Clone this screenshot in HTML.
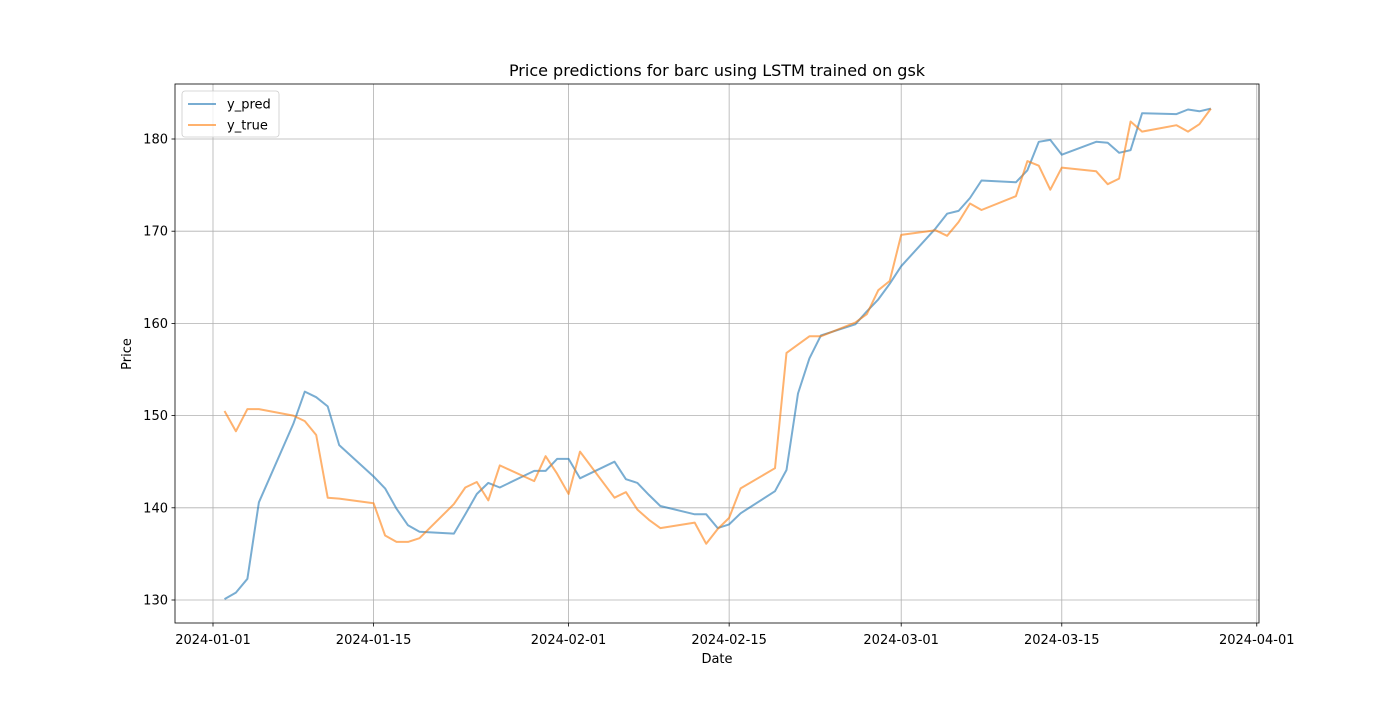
<!DOCTYPE html>
<html><head><meta charset="utf-8"><style>
body{margin:0;background:#fff;font-family:"Liberation Sans","DejaVu Sans",sans-serif}
</style></head><body>
<svg id="chart" width="1400" height="700" xmlns="http://www.w3.org/2000/svg" font-family="DejaVu Sans, Liberation Sans, sans-serif">
<rect width="1400" height="700" fill="#fff"/>
<g id="grid"></g><g id="series"></g><g id="axes"></g>
</svg>
<script>
const dates=["2024-01-02","2024-01-03","2024-01-04","2024-01-05","2024-01-08","2024-01-09","2024-01-10","2024-01-11","2024-01-12","2024-01-15","2024-01-16","2024-01-17","2024-01-18","2024-01-19","2024-01-22","2024-01-23","2024-01-24","2024-01-25","2024-01-26","2024-01-29","2024-01-30","2024-01-31","2024-02-01","2024-02-02","2024-02-05","2024-02-06","2024-02-07","2024-02-08","2024-02-09","2024-02-12","2024-02-13","2024-02-14","2024-02-15","2024-02-16","2024-02-19","2024-02-20","2024-02-21","2024-02-22","2024-02-23","2024-02-26","2024-02-27","2024-02-28","2024-02-29","2024-03-01","2024-03-04","2024-03-05","2024-03-06","2024-03-07","2024-03-08","2024-03-11","2024-03-12","2024-03-13","2024-03-14","2024-03-15","2024-03-18","2024-03-19","2024-03-20","2024-03-21","2024-03-22","2024-03-25","2024-03-26","2024-03-27","2024-03-28"];
const yPred=[130.1,130.8,132.3,140.6,149.1,152.6,152.0,151.0,146.8,143.4,142.1,139.9,138.1,137.4,137.2,139.3,141.5,142.7,142.2,144.0,144.0,145.3,145.3,143.2,145.0,143.1,142.7,141.4,140.2,139.3,139.3,137.8,138.2,139.4,141.8,144.1,152.4,156.2,158.7,159.9,161.3,162.6,164.3,166.2,170.3,171.9,172.2,173.6,175.5,175.3,176.6,179.7,179.9,178.3,179.7,179.6,178.5,178.8,182.8,182.7,183.2,183.0,183.3];
const yTrue=[150.5,148.3,150.7,150.7,150.0,149.4,147.9,141.1,141.0,140.5,137.0,136.3,136.3,136.7,140.4,142.2,142.8,140.8,144.6,142.9,145.6,143.7,141.5,146.1,141.1,141.7,139.8,138.7,137.8,138.4,136.1,137.7,138.9,142.1,144.3,156.8,157.7,158.6,158.6,160.1,161.0,163.6,164.6,169.6,170.1,169.5,171.0,173.0,172.3,173.8,177.6,177.1,174.5,176.9,176.5,175.1,175.7,181.9,180.8,181.5,180.8,181.6,183.3];
const xTicks=["2024-01-01","2024-01-15","2024-02-01","2024-02-15","2024-03-01","2024-03-15","2024-04-01"];
const yTicks=[130,140,150,160,170,180];

const L=175,R=1259,T=84,B=623;
const t0=Date.UTC(2024,0,1);
function day(s){const p=s.split('-');return (Date.UTC(+p[0],p[1]-1,+p[2])-t0)/864e5;}
function X(s){return 213+day(s)*11.47;}
function Y(v){return 600-(v-130)*9.22;}
const NS="http://www.w3.org/2000/svg";
function mk(tag,attrs,parent,text){const e=document.createElementNS(NS,tag);for(const k in attrs)e.setAttribute(k,attrs[k]);if(text!==undefined)e.textContent=text;parent.appendChild(e);return e;}
const svg=document.getElementById('chart'),grid=document.getElementById('grid'),ser=document.getElementById('series'),ax=document.getElementById('axes');

xTicks.forEach(d=>{const x=X(d);
 const g=mk('line',{x1:x,x2:x,y1:T,y2:B,stroke:'#b0b0b0','stroke-width':0.8},grid);
 
 mk('line',{x1:x,x2:x,y1:B,y2:B+3.5,stroke:'#000','stroke-width':0.8},ax);
 const t=mk('text',{x:x,y:B+21,'text-anchor':'middle','font-size':13},ax,d);
 
});
yTicks.forEach(v=>{const y=Y(v);
 const g=mk('line',{x1:L,x2:R,y1:y,y2:y,stroke:'#b0b0b0','stroke-width':0.8},grid);
 
 mk('line',{x1:L-3.5,x2:L,y1:y,y2:y,stroke:'#000','stroke-width':0.8},ax);
 const t=mk('text',{x:L-7,y:y+4.5,'text-anchor':'end','font-size':13},ax,v);
 
});
function line(vals,color,name){
 const pts=dates.map((d,i)=>X(d).toFixed(1)+','+Y(vals[i]).toFixed(1)).join(' ');
 const p=mk('polyline',{points:pts,fill:'none',stroke:color,'stroke-opacity':0.6,'stroke-width':2,'stroke-linejoin':'round'},ser);
 
}
line(yPred,'#1f77b4','y-pred-line');
line(yTrue,'#ff7f0e','y-true-line');

const frame=mk('rect',{x:L,y:T,width:R-L,height:B-T,fill:'none',stroke:'#000','stroke-width':0.8},ax);

const title=mk('text',{x:717,y:76,'text-anchor':'middle','font-size':16},ax,'Price predictions for barc using LSTM trained on gsk');

const xl=mk('text',{x:717,y:663,'text-anchor':'middle','font-size':13},ax,'Date');

const yl=mk('text',{x:131,y:354,'text-anchor':'middle','font-size':13,transform:'rotate(-90 131 354)'},ax,'Price');


const lg=mk('g',{},ax);

mk('rect',{x:182,y:91,width:97,height:46,rx:3,fill:'#fff','fill-opacity':0.8,stroke:'#ccc','stroke-width':0.8},lg);
[['y_pred','#1f77b4',104],['y_true','#ff7f0e',125]].forEach(([n,c,y])=>{
 const e=mk('g',{},lg);
 
 mk('line',{x1:188,x2:216,y1:y,y2:y,stroke:c,'stroke-opacity':0.6,'stroke-width':2},e);
 mk('text',{x:227,y:y+4.5,'font-size':13},e,n);
});
</script>
</body></html>
